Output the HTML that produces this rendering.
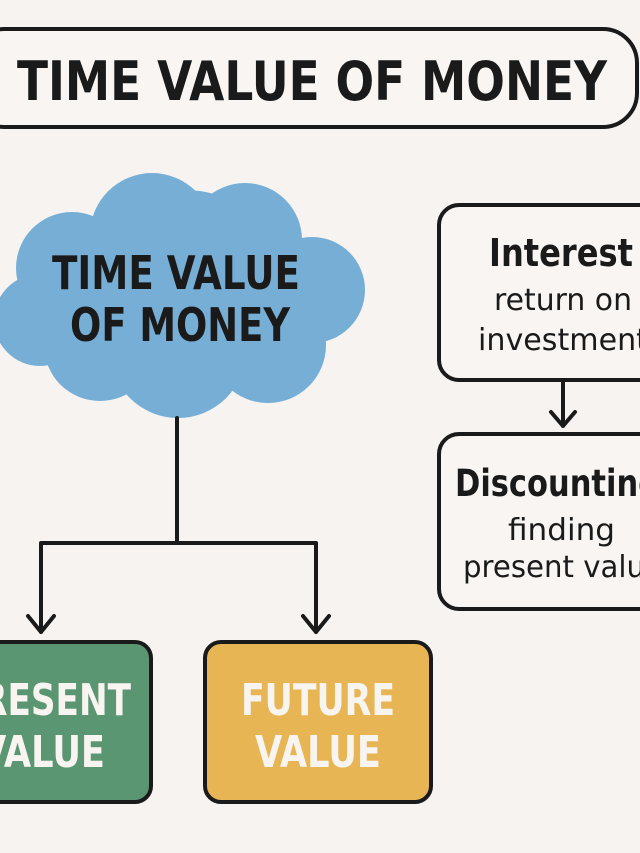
<!DOCTYPE html>
<html><head><meta charset="utf-8"><style>
html,body{margin:0;padding:0;background:#f6f3f0;}
svg{display:block;}
text{font-family:"DejaVu Sans","Liberation Sans",sans-serif;}
</style></head><body>
<svg width="640" height="853" viewBox="0 0 640 853" xmlns="http://www.w3.org/2000/svg">
<rect width="640" height="853" fill="#f6f3f0"/>
<!-- title -->
<rect x="-30" y="29" width="667" height="98" rx="34" fill="#f8f5f2" stroke="#1a1a1a" stroke-width="4"/>
<text x="17" y="100" font-size="54" font-weight="bold" fill="#1a1a1a" textLength="590" lengthAdjust="spacingAndGlyphs">TIME VALUE OF MONEY</text>
<!-- cloud -->
<g fill="#76aed6">
<circle cx="152" cy="235" r="62"/>
<circle cx="245" cy="240" r="57"/>
<circle cx="312" cy="290" r="53"/>
<circle cx="72" cy="268" r="56"/>
<circle cx="40" cy="320" r="46"/>
<circle cx="100" cy="345" r="56"/>
<circle cx="178" cy="350" r="68"/>
<circle cx="268" cy="345" r="58"/>
<circle cx="185" cy="295" r="105"/>
</g>
<text x="52" y="289" font-size="46" font-weight="bold" fill="#1a1a1a" textLength="248" lengthAdjust="spacingAndGlyphs">TIME VALUE</text>
<text x="70" y="341" font-size="46" font-weight="bold" fill="#1a1a1a" textLength="220" lengthAdjust="spacingAndGlyphs">OF MONEY</text>
<!-- connectors -->
<g stroke="#1a1a1a" stroke-width="4" fill="none" stroke-linecap="round" stroke-linejoin="round">
<path d="M177 418 V543 M41 543 H316 M41 543 V632 M316 543 V632"/>
<path d="M28 616 L41 632 L54 616"/>
<path d="M303 616 L316 632 L329 616"/>
<path d="M563 381 V426 M551 412 L563 426 L575 412"/>
</g>
<!-- boxes -->
<rect x="-20" y="642" width="171" height="160" rx="16" fill="#5b9673" stroke="#1a1a1a" stroke-width="4"/>
<rect x="205" y="642" width="226" height="160" rx="16" fill="#e8b555" stroke="#1a1a1a" stroke-width="4"/>
<text x="-44" y="715" font-size="44" font-weight="bold" fill="#f8f5f0" textLength="175" lengthAdjust="spacingAndGlyphs">PRESENT</text>
<text x="-21" y="767" font-size="44" font-weight="bold" fill="#f8f5f0" textLength="126" lengthAdjust="spacingAndGlyphs">VALUE</text>
<text x="241" y="715" font-size="44" font-weight="bold" fill="#f8f5f0" textLength="154" lengthAdjust="spacingAndGlyphs">FUTURE</text>
<text x="255" y="767" font-size="44" font-weight="bold" fill="#f8f5f0" textLength="126" lengthAdjust="spacingAndGlyphs">VALUE</text>
<rect x="439" y="205" width="230" height="175" rx="20" fill="#f8f5f2" stroke="#1a1a1a" stroke-width="4"/>
<text x="489" y="266" font-size="38" font-weight="bold" fill="#1a1a1a" textLength="144" lengthAdjust="spacingAndGlyphs">Interest</text>
<text x="494" y="310" font-size="30" fill="#1a1a1a" textLength="138" lengthAdjust="spacingAndGlyphs">return on</text>
<text x="478" y="350" font-size="30" fill="#1a1a1a" textLength="170" lengthAdjust="spacingAndGlyphs">investment</text>
<rect x="439" y="434" width="230" height="175" rx="20" fill="#f8f5f2" stroke="#1a1a1a" stroke-width="4"/>
<text x="455" y="496" font-size="37" font-weight="bold" fill="#1a1a1a" textLength="205" lengthAdjust="spacingAndGlyphs">Discounting</text>
<text x="508" y="540" font-size="30" fill="#1a1a1a" textLength="107" lengthAdjust="spacingAndGlyphs">finding</text>
<text x="463" y="577" font-size="30" fill="#1a1a1a" textLength="200" lengthAdjust="spacingAndGlyphs">present value</text>
</svg>
</body></html>
